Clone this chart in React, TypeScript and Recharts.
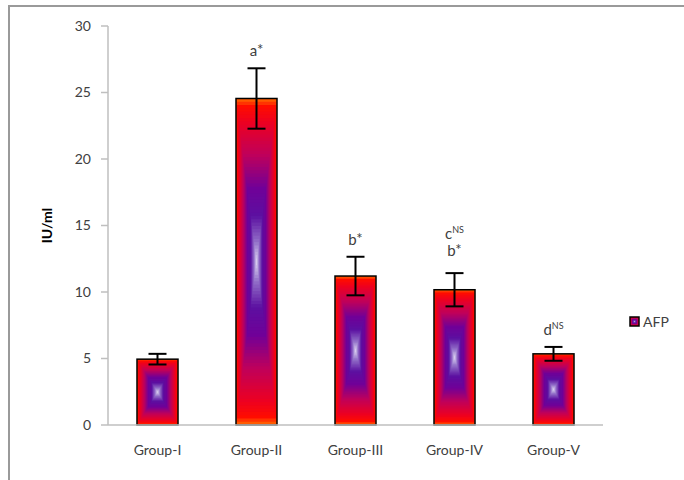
import { BarChart, Bar, XAxis, YAxis, ErrorBar, LabelList } from 'recharts'

const groups = ['Group-I', 'Group-II', 'Group-III', 'Group-IV', 'Group-V']
const afpMean = [4.95, 24.55, 11.2, 10.17, 5.35]
const afpErr = [0.4, 2.27, 1.45, 1.25, 0.52]
// significance marks, listed bottom line first: [letter, superscript]
const sigMarks: Array<Array<[string, string]>> = [
  [],
  [['a', '*']],
  [['b', '*']],
  [['b', '*'], ['c', 'NS']],
  [['d', 'NS']],
]
const yTicks = [0, 5, 10, 15, 20, 25, 30]
const seriesName = 'AFP'

const data = groups.map((name, i) => ({ name, mean: afpMean[i], err: afpErr[i] }))

const stops: Array<[number, [number, number, number]]> = [
  [0, [255, 110, 0]],
  [0.05, [255, 12, 0]],
  [0.15, [236, 0, 34]],
  [0.35, [190, 0, 92]],
  [0.55, [112, 0, 152]],
  [0.72, [92, 16, 160]],
  [0.88, [146, 112, 200]],
  [1, [222, 214, 242]],
]

function colorAt(t: number) {
  for (let i = 1; i < stops.length; i++) {
    if (t <= stops[i][0]) {
      const [t0, c0] = stops[i - 1]
      const [t1, c1] = stops[i]
      const f = (t - t0) / (t1 - t0)
      const c = c0.map((v, k) => Math.round(v + (c1[k] - v) * f))
      return `rgb(${c[0]},${c[1]},${c[2]})`
    }
  }
  const c = stops[stops.length - 1][1]
  return `rgb(${c[0]},${c[1]},${c[2]})`
}

function RectGradient({ x, y, width, height, steps = 50, stroke = 1.5 }: any) {
  const rects = []
  for (let i = 0; i < steps; i++) {
    const t = i / steps
    rects.push(
      <rect
        key={i}
        x={x + (t * width) / 2}
        y={y + (t * height) / 2}
        width={width * (1 - t)}
        height={height * (1 - t)}
        fill={colorAt(t + 0.5 / steps)}
      />
    )
  }
  return (
    <g>
      {rects}
      <rect x={x} y={y} width={width} height={height} fill="none" stroke="#000" strokeWidth={stroke} />
    </g>
  )
}

const BarShape = (props: any) => {
  const { x, y, width, height } = props
  if (!height || height <= 0) return null
  return <RectGradient x={x} y={y} width={width} height={height} />
}

const SigLabel = (props: any) => {
  const vb = props.viewBox ?? props
  const { x, y, width, height } = vb
  const i = props.index
  const marks = sigMarks[i]
  if (!marks || !marks.length) return null
  const errTop = y - (afpErr[i] * height) / afpMean[i]
  const cx = x + width / 2
  return (
    <g>
      {marks.map(([letter, sup], k) => {
        const base = marks.length > 1 ? errTop - 17 - k * 17 : errTop - 12
        return (
          <text
            key={k}
            x={cx}
            y={base}
            textAnchor="middle"
            fontFamily="Lato, sans-serif"
            fontSize={15}
            fill="#404040"
          >
            <tspan>{letter}</tspan>
            {sup === '*' ? (
              <tspan dy={-1} fontSize={15}>*</tspan>
            ) : (
              <tspan dy={-6} fontSize={9}>{sup}</tspan>
            )}
          </text>
        )
      })}
    </g>
  )
}

const YLabel = (props: any) => {
  const vb = props.viewBox
  const cy = vb.y + vb.height / 2
  return (
    <text
      x={52}
      y={cy}
      transform={`rotate(-90, 52, ${cy})`}
      textAnchor="middle"
      fontFamily="Lato, sans-serif"
      fontWeight="bold"
      fontSize={14}
      fill="#000"
    >
      IU/ml
    </text>
  )
}

export default function App() {
  return (
    <div style={{ position: 'absolute', left: 0, top: 0, width: 684, height: 480, background: '#fff' }}>
      <div
        style={{
          position: 'absolute',
          left: 8,
          top: 5,
          width: 676,
          height: 475,
          borderLeft: '2px solid #9a9a9a',
          borderTop: '2px solid #9a9a9a',
        }}
      />
      <div style={{ position: 'absolute', left: 0, top: 0 }}>
        <BarChart
          width={684}
          height={480}
          data={data}
          margin={{ top: 26, right: 81, left: 0, bottom: 25 }}
          barSize={41}
        >
          <XAxis
            dataKey="name"
            height={30}
            axisLine={{ stroke: '#bfbfbf', strokeWidth: 1.5 }}
            tickLine={false}
            tickSize={0}
            tickMargin={20}
            tick={{ fontFamily: 'Lato, sans-serif', fontSize: 14, fill: '#404040' }}
            interval={0}
          />
          <YAxis
            width={108}
            domain={[0, 30]}
            ticks={yTicks}
            interval={0}
            axisLine={{ stroke: '#bfbfbf', strokeWidth: 1.5 }}
            tickLine={{ stroke: '#bfbfbf', strokeWidth: 1.5 }}
            tickSize={7}
            tickMargin={10}
            tick={{ fontFamily: 'Lato, sans-serif', fontSize: 14, fill: '#404040' }}
            label={<YLabel />}
          />
          <Bar dataKey="mean" name={seriesName} shape={<BarShape />} isAnimationActive={false}>
            <ErrorBar dataKey="err" width={9} stroke="#000" strokeWidth={2} direction="y" />
            <LabelList dataKey="mean" content={<SigLabel />} />
          </Bar>
        </BarChart>
      </div>
      <div
        style={{
          position: 'absolute',
          left: 629,
          top: 313,
          display: 'flex',
          alignItems: 'center',
          fontFamily: 'Lato, sans-serif',
          fontSize: 14,
          color: '#404040',
        }}
      >
        <svg width={11} height={11} style={{ marginRight: 3 }}>
          <RectGradient x={1} y={1} width={9} height={9} steps={8} stroke={1.5} />
        </svg>
        <span>{seriesName}</span>
      </div>
    </div>
  )
}
